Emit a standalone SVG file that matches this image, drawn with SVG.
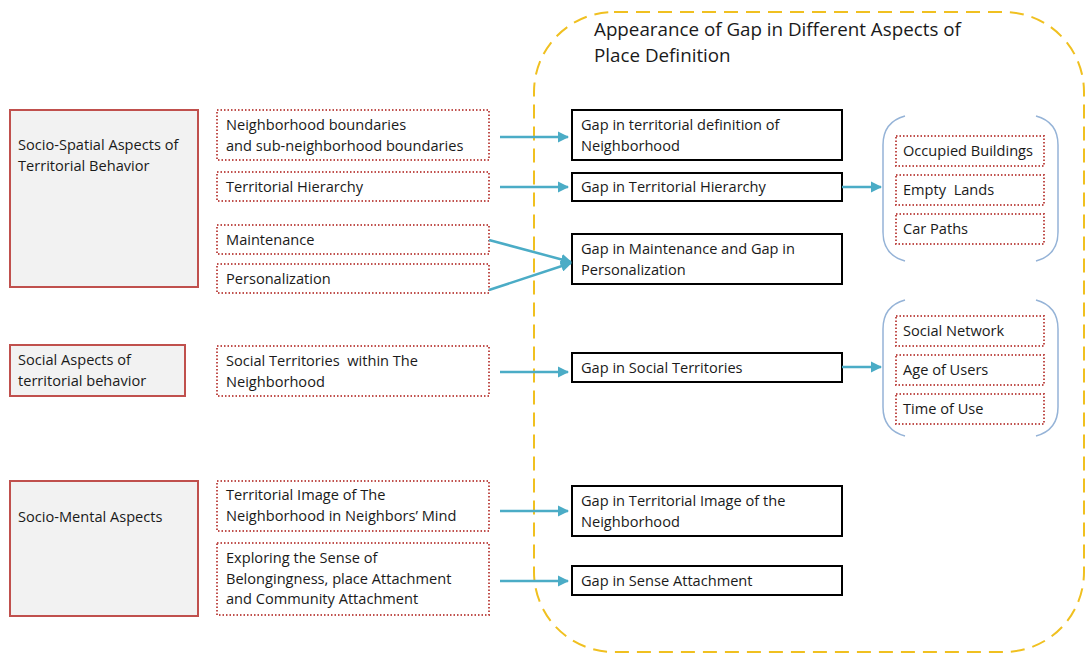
<svg xmlns="http://www.w3.org/2000/svg" width="1088" height="655" viewBox="0 0 1088 655">
<defs>
<style>
text{font-family:"Open Sans","Liberation Sans",sans-serif;font-size:14.6px;fill:#1a1a1a;white-space:pre}
.title{font-size:18.8px}
.main{fill:#f2f2f2;stroke:#c0504d;stroke-width:2}
.dot{fill:#fff;stroke:#c0504d;stroke-width:2;stroke-dasharray:1.5 2}
.gap{fill:#fff;stroke:#000;stroke-width:2}
.brk{fill:none;stroke:#95b3d7;stroke-width:1.5}
.arr{fill:none;stroke:#4bacc6;stroke-width:2.5;marker-end:url(#ah)}
</style>
<marker id="ah" viewBox="0 0 10 10" refX="9" refY="5" markerWidth="4.5" markerHeight="4.5" orient="auto" markerUnits="strokeWidth">
<path d="M0,0 L10,5 L0,10 z" fill="#4bacc6"/>
</marker>
</defs>
<rect width="1088" height="655" fill="#fff"/>

<g id="region">
<rect x="534" y="12" width="550" height="640" rx="80" ry="80" fill="none" stroke="#f0c020" stroke-width="2" stroke-dasharray="14 8"/>
<text class="title" x="594" y="36">Appearance of Gap in Different Aspects of</text>
<text class="title" x="594" y="62">Place Definition</text>
</g>

<g id="socio-spatial"><rect class="main" x="10" y="110" width="188" height="177"/>
<text x="18" y="150">Socio-Spatial Aspects of</text><text x="18" y="171">Territorial Behavior</text></g>
<g id="social"><rect class="main" x="10" y="345" width="175" height="51"/>
<text x="18" y="365">Social Aspects of</text><text x="18" y="386">territorial behavior</text></g>
<g id="socio-mental"><rect class="main" x="10" y="481" width="188" height="135"/>
<text x="18" y="522">Socio-Mental Aspects</text></g>

<g id="nb"><rect class="dot" x="217" y="110" width="272" height="50"/>
<text x="226" y="130">Neighborhood boundaries</text><text x="226" y="151">and sub-neighborhood boundaries</text></g>
<g id="th"><rect class="dot" x="217" y="172" width="272" height="29"/>
<text x="226" y="192">Territorial Hierarchy</text></g>
<g id="mt"><rect class="dot" x="217" y="225" width="272" height="29"/>
<text x="226" y="245">Maintenance</text></g>
<g id="pz"><rect class="dot" x="217" y="264" width="272" height="29"/>
<text x="226" y="284">Personalization</text></g>
<g id="st"><rect class="dot" x="217" y="346" width="272" height="50"/>
<text x="226" y="366" xml:space="preserve">Social Territories  within The</text><text x="226" y="387">Neighborhood</text></g>
<g id="ti"><rect class="dot" x="217" y="481" width="272" height="50"/>
<text x="226" y="500">Territorial Image of The</text><text x="226" y="521">Neighborhood in Neighbors’ Mind</text></g>
<g id="ex"><rect class="dot" x="217" y="543" width="272" height="72"/>
<text x="226" y="563">Exploring the Sense of</text><text x="226" y="584">Belongingness, place Attachment</text><text x="226" y="604">and Community Attachment</text></g>

<g id="g1"><rect class="gap" x="572" y="110" width="270" height="50"/>
<text x="581" y="130">Gap in territorial definition of</text><text x="581" y="151">Neighborhood</text></g>
<g id="g2"><rect class="gap" x="572" y="173" width="270" height="28"/>
<text x="581" y="192">Gap in Territorial Hierarchy</text></g>
<g id="g3"><rect class="gap" x="572" y="234" width="270" height="50"/>
<text x="581" y="254">Gap in Maintenance and Gap in</text><text x="581" y="275">Personalization</text></g>
<g id="g4"><rect class="gap" x="572" y="353" width="270" height="29"/>
<text x="581" y="373">Gap in Social Territories</text></g>
<g id="g5"><rect class="gap" x="572" y="486" width="270" height="50"/>
<text x="581" y="506">Gap in Territorial Image of the</text><text x="581" y="527">Neighborhood</text></g>
<g id="g6"><rect class="gap" x="572" y="566" width="270" height="29"/>
<text x="581" y="586">Gap in Sense Attachment</text></g>

<g id="set1">
<path class="brk" d="M905,116 Q883,122 883,145 L883,232 Q883,255 905,261"/>
<path class="brk" d="M1036,116 Q1058,122 1058,145 L1058,232 Q1058,255 1036,261"/>
</g>
<g id="ob"><rect class="dot" x="896" y="136" width="148" height="30"/><text x="903" y="156">Occupied Buildings</text></g>
<g id="el"><rect class="dot" x="896" y="175" width="148" height="30"/><text x="903" y="195" xml:space="preserve">Empty  Lands</text></g>
<g id="cp"><rect class="dot" x="896" y="214" width="148" height="30"/><text x="903" y="234">Car Paths</text></g>
<g id="set2">
<path class="brk" d="M905,300 Q883,306 883,329 L883,407 Q883,430 905,436"/>
<path class="brk" d="M1036,300 Q1058,306 1058,329 L1058,407 Q1058,430 1036,436"/>
</g>
<g id="sn"><rect class="dot" x="896" y="316" width="148" height="30"/><text x="903" y="336">Social Network</text></g>
<g id="au"><rect class="dot" x="896" y="355" width="148" height="30"/><text x="903" y="375">Age of Users</text></g>
<g id="tu"><rect class="dot" x="896" y="394" width="148" height="30"/><text x="903" y="414">Time of Use</text></g>

<g id="connectors">
<line class="arr" x1="500" y1="137" x2="568" y2="137"/>
<line class="arr" x1="500" y1="187" x2="568" y2="187"/>
<line class="arr" x1="489" y1="240" x2="571" y2="262"/>
<line class="arr" x1="489" y1="290" x2="571" y2="263"/>
<line class="arr" x1="500" y1="372" x2="568" y2="372"/>
<line class="arr" x1="500" y1="511" x2="568" y2="511"/>
<line class="arr" x1="500" y1="581" x2="568" y2="581"/>
<line class="arr" x1="842" y1="187" x2="881" y2="187"/>
<line class="arr" x1="842" y1="367" x2="881" y2="367"/>
</g>
</svg>
